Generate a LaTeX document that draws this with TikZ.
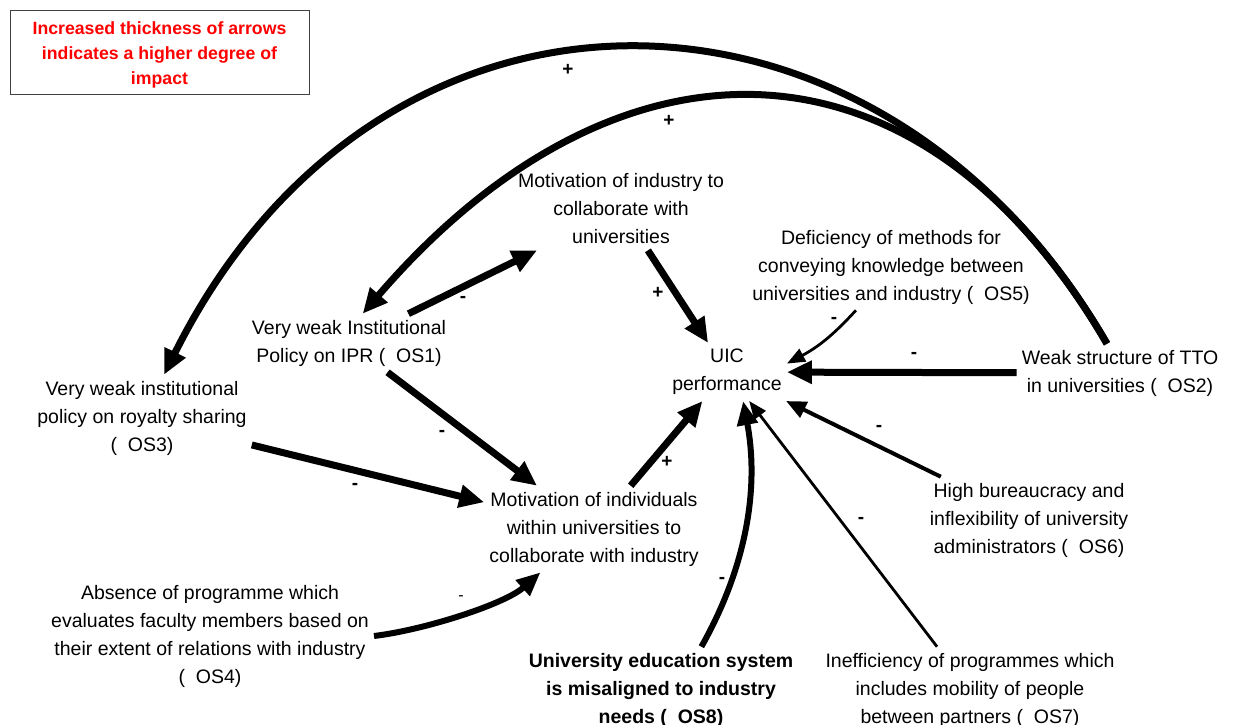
\documentclass[tikz,border=0pt]{standalone}
\usepackage{fontspec}
\setmainfont{Liberation Sans}
\usetikzlibrary{arrows.meta,calc}

\begin{document}
\begin{tikzpicture}[x=1pt,y=-1pt,
  var/.style={align=center,inner xsep=5pt,inner ysep=6pt,
    font=\fontsize{19.5pt}{28pt}\selectfont},
  sign/.style={inner sep=0pt,font=\bfseries\fontsize{19pt}{19pt}\selectfont},
  heavy/.style={line width=7pt,-{Triangle[length=25pt,width=22pt]}},
  midline/.style={line width=6pt,-{Triangle[length=24pt,width=20pt]}},
  medium/.style={line width=4pt,-{Triangle[length=20pt,width=17pt]}},
  light/.style={line width=2.8pt,-{Triangle[length=18pt,width=14pt]}},
]
\useasboundingbox (0,0) rectangle (1234,725);

% legend box and its note
\node[draw=black!75,line width=0.8pt,minimum width=299pt,minimum height=84pt,
  inner sep=0pt] (legend) at (159.5,52) {};
\node[align=center,text=red,inner sep=0pt,
  font=\bfseries\fontsize{17.7pt}{25pt}\selectfont] (legendnote) at (159.5,55)
  {Increased thickness of arrows\\indicates a higher degree of\\impact};

% variables
\node[var] (mind) at (621,209) {Motivation of industry to\\collaborate with\\universities};
\node[var] (os1) at (349,343) {Very weak Institutional\\Policy on IPR (~~OS1)};
\node[var] (os3) at (142,418) {Very weak institutional\\policy on royalty sharing\\(~~OS3)};
\node[var] (uic) at (727,372) {UIC\\performance};
\node[var] (os5) at (891,267) {Deficiency of methods for\\conveying knowledge between\\universities and industry (~~OS5)};
\node[var] (os2) at (1120,373) {Weak structure of TTO\\in universities (~~OS2)};
\node[var] (mindiv) at (594,529) {Motivation of individuals\\within universities to\\collaborate with industry};
\node[var] (os6) at (1029,520) {High bureaucracy and\\inflexibility of university\\administrators (~~OS6)};
\node[var] (os4) at (210,636) {Absence of programme which\\evaluates faculty members based on\\their extent of relations with industry\\(~~OS4)};
\node[var,font=\bfseries\fontsize{19.5pt}{28pt}\selectfont] (os8) at (661,690)
  {University education system\\is misaligned to industry\\needs (~~OS8)};
\node[var] (os7) at (970,690) {Inefficiency of programmes which\\includes mobility of people\\between partners (~~OS7)};

% long feedback arcs from the TTO structure
\draw[heavy] (os2.114) .. controls +(-228,-394) and +(217,-435) .. (os3.63);
\draw[heavy] (os2.114) .. controls +(-188,-324) and +(253,-294) .. (os1.65);

% straight links
\draw[heavy] (os1) -- (mind);
\draw[heavy] (mind) -- (uic);
\draw[heavy] (os1) -- (mindiv);
\draw[heavy] (os3) -- (mindiv);
\draw[heavy] (mindiv) -- (uic);
\draw[heavy] (os2) -- (uic);
\draw[medium] (os6) -- (uic);
\draw[light] (os7) -- (uic);

% curved links
\draw[light] (os5.231) .. controls +(-22,24) and +(32,-17) .. (uic.8);
\draw[midline] (os8.47) .. controls +(49,-87) and +(15,80) .. (uic.-61);
\draw[midline] (os4.0) .. controls +(50,-6) and +(-36,32) .. (mindiv.219);

% polarity signs
\node[sign] (p1) at (568,70) {+};
\node[sign] (p2) at (669,121) {+};
\node[sign] (p3) at (463,299) {-};
\node[sign] (p4) at (658,293) {+};
\node[sign] (p5) at (442,433) {-};
\node[sign] (p6) at (355,486) {-};
\node[sign] (p7) at (667,462) {+};
\node[inner sep=0pt,font=\fontsize{16pt}{16pt}\selectfont] (p8) at (461,598) {-};
\node[sign] (p9) at (722,580) {-};
\node[sign] (p10) at (861,520) {-};
\node[sign] (p11) at (879,428) {-};
\node[sign] (p12) at (914,355) {-};
\node[sign] (p13) at (834,320) {-};
\end{tikzpicture}
\end{document}
